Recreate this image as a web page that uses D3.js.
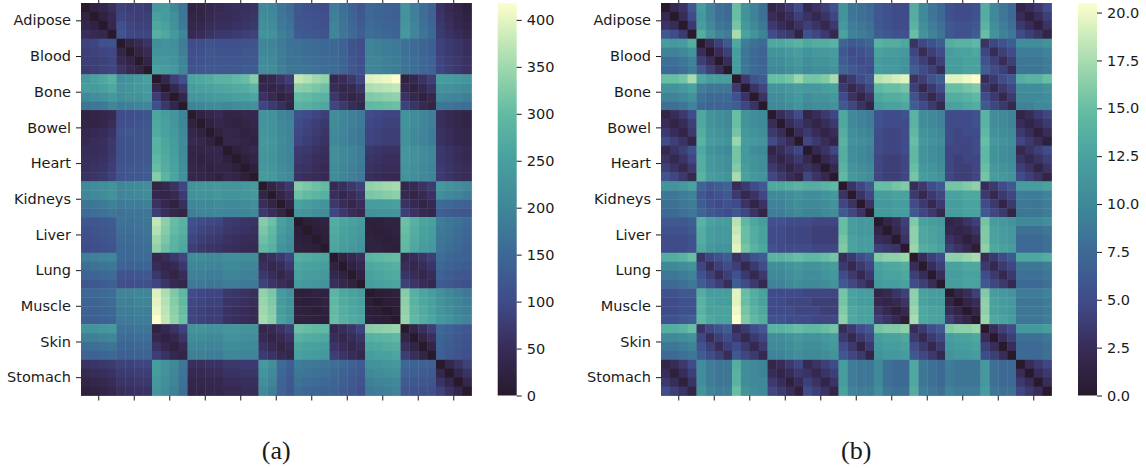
<!DOCTYPE html>
<html>
<head>
<meta charset="utf-8">
<script src="https://cdn.jsdelivr.net/npm/d3@7"></script>
<style>
  body { margin: 0; background: #fff; }
  svg text { font-family: "DejaVu Sans", sans-serif; font-size: 14.5px; fill: #1a1a1a; }
  svg text.caption { font-family: "Liberation Serif", serif; font-size: 26px; }
</style>
</head>
<body>
<svg id="chart" width="1146" height="468"></svg>
<script>
"use strict";

var tissues = ["Adipose", "Blood", "Bone", "Bowel", "Heart", "Kidneys",
               "Liver", "Lung", "Muscle", "Skin", "Stomach"];

var ticksA = [0, 50, 100, 150, 200, 250, 300, 350, 400];
var ticksB = [0, 2.5, 5, 7.5, 10, 12.5, 15, 17.5, 20];
var maxA = 418;
var maxB = 20.5;

// distance matrices, 11 tissues x 4 samples; stored as lower triangles (symmetric)
var distA = [
  [0],
  [25,0],
  [35,25,0],
  [55,45,40,0],
  [85,90,110,115, 0],
  [80,85,90,95, 30,0],
  [80,80,85,90, 45,30,0],
  [75,80,85,90, 60,45,30,0],
  [235,250,265,280, 215,225,235,250, 0],
  [245,240,250,265, 220,225,235,245, 35,0],
  [205,215,220,235, 215,220,225,235, 80,40,0],
  [170,175,180,200, 185,190,195,200, 110,70,35,0],
  [25,30,35,45, 100,105,110,115, 260,245,230,195, 0],
  [30,30,35,50, 105,110,115,120, 265,250,230,200, 25,0],
  [40,45,50,60, 115,120,120,125, 270,255,235,205, 35,25,0],
  [45,50,55,70, 110,115,120,125, 285,260,240,210, 45,35,25,0],
  [50,50,55,70, 110,115,120,125, 285,265,245,205, 30,30,35,35, 0],
  [55,55,60,75, 110,115,120,125, 295,270,250,210, 30,25,30,35, 20,0],
  [55,60,65,80, 115,120,125,130, 305,275,255,215, 35,30,25,30, 30,20,0],
  [60,65,70,85, 115,120,125,130, 330,290,260,220, 40,35,30,25, 40,30,20,0],
  [205,210,215,225, 200,205,210,215, 30,40,60,90, 225,230,230,235, 230,230,235,240, 0],
  [200,205,210,220, 195,200,205,210, 40,30,45,75, 220,225,225,230, 225,225,230,235, 30,0],
  [170,175,180,190, 180,185,185,190, 60,40,25,55, 200,205,205,210, 205,205,210,215, 50,30,0],
  [155,160,165,175, 165,170,170,175, 80,55,35,30, 190,195,195,200, 195,195,200,205, 70,50,30,0],
  [120,120,125,130, 165,165,170,175, 375,335,305,285, 110,100,95,90, 75,70,65,60, 330,310,250,230, 0],
  [110,115,120,125, 160,160,165,170, 365,330,300,280, 100,90,85,80, 70,65,60,55, 320,300,245,225, 15,0],
  [105,110,115,120, 155,155,160,165, 350,320,290,270, 90,80,75,70, 60,55,50,50, 310,290,235,215, 20,15,0],
  [100,105,110,115, 150,150,155,160, 340,310,285,265, 80,70,65,60, 55,50,45,45, 300,280,225,210, 25,20,15,0],
  [185,190,195,200, 150,150,155,155, 40,50,70,90, 210,210,205,205, 215,215,210,210, 45,55,70,90, 275,270,265,260, 0],
  [160,165,170,175, 140,140,145,145, 50,35,45,70, 200,200,195,195, 205,205,200,200, 55,40,50,70, 260,255,250,245, 25,0],
  [140,145,150,155, 115,115,120,120, 70,45,30,50, 190,190,185,185, 195,195,190,190, 70,50,35,50, 250,245,240,235, 40,25,0],
  [120,125,130,135, 105,105,110,110, 90,65,45,35, 180,180,175,175, 185,185,180,180, 85,65,50,40, 240,235,230,225, 55,40,25,0],
  [150,150,155,160, 195,195,200,200, 395,360,325,295, 100,95,90,90, 70,65,60,55, 340,320,240,220, 20,20,25,25, 290,265,255,245, 0],
  [145,145,150,155, 190,190,195,195, 400,365,330,300, 95,90,85,85, 65,60,55,50, 345,325,240,225, 20,15,20,25, 295,270,260,250, 10,0],
  [140,140,145,150, 185,185,190,190, 405,370,335,305, 90,85,80,80, 60,55,50,45, 350,330,245,225, 25,20,15,20, 300,275,265,255, 15,10,0],
  [135,135,140,145, 180,180,185,185, 418,375,340,310, 90,85,80,80, 60,55,50,45, 355,335,250,230, 25,25,20,15, 305,280,270,260, 20,15,10,0],
  [225,225,230,235, 165,165,170,170, 25,40,60,85, 225,225,220,220, 230,230,225,225, 35,45,60,80, 310,305,300,295, 40,50,65,85, 330,335,340,345, 0],
  [190,190,195,200, 155,155,160,160, 40,25,40,65, 210,210,205,205, 220,220,215,215, 45,30,45,60, 280,275,270,265, 50,40,50,65, 280,285,290,295, 30,0],
  [160,160,165,170, 145,145,150,150, 60,40,25,45, 200,200,195,195, 210,210,205,205, 60,45,30,45, 260,255,250,245, 65,50,40,50, 260,265,270,275, 55,30,0],
  [140,140,145,150, 135,135,140,140, 80,60,40,30, 190,190,185,185, 200,200,195,195, 75,60,45,35, 250,245,240,235, 80,65,50,40, 245,250,255,260, 80,55,30,0],
  [60,65,70,75, 85,85,90,90, 245,225,205,175, 55,55,60,60, 70,70,75,75, 235,215,155,135, 185,180,175,170, 160,150,140,130, 220,225,230,235, 150,145,140,135, 0],
  [45,50,55,60, 75,75,80,80, 240,220,200,170, 45,45,50,50, 60,60,65,65, 225,205,150,130, 175,170,165,160, 150,140,130,120, 205,210,215,220, 140,135,130,125, 35,0],
  [30,35,40,50, 65,65,70,70, 235,215,195,165, 35,35,40,40, 50,50,55,55, 215,195,145,125, 165,160,155,150, 145,135,125,115, 190,195,200,205, 130,125,120,115, 60,35,0],
  [20,25,30,40, 55,55,60,60, 230,210,190,160, 30,30,35,35, 45,45,50,50, 205,185,140,120, 155,150,145,140, 140,130,120,110, 180,185,190,195, 120,115,110,105, 85,60,35,0]
];

var distB = [
  [0],
  [2,0],
  [3,2.5,0],
  [6,5,3.5,0],
  [12,11.5,12,13.5, 0],
  [9.5,9.5,10,11, 2.5,0],
  [8,8,8.5,9.5, 4,2.5,0],
  [7.5,7.5,8,9, 6,4,2.5,0],
  [15,15,15.5,17.5, 13,12,12,12, 0],
  [11,11,11.5,12.5, 9,8.5,8.5,8.5, 3.5,0],
  [9.5,9.5,10,11, 8,7.5,7.5,7.5, 5.5,3,0],
  [8,8,8.5,9.5, 7.5,7,7,7, 6.5,4.5,3,0],
  [1.5,2.5,3.5,5, 13,11,10.5,10, 15,11,10.5,10, 0],
  [2.5,1.5,2.5,4, 13,11,10.5,10, 15,11,10.5,10, 2.5,0],
  [3.5,2.5,1.5,3.5, 13.5,11.5,11,10.5, 15.5,11.5,11,10.5, 3.5,2.5,0],
  [5,4,3,1.5, 14,12,11.5,11, 17,12,11.5,11, 5,3.5,2.5,0],
  [2,3,4,5.5, 13,11,10.5,10, 15.5,11.5,10.5,10, 1.5,2.5,3.5,4.5, 0],
  [3,2,3,4.5, 13.5,11.5,11,10.5, 15.5,11.5,11,10.5, 2.5,1.5,2.5,3.5, 2,0],
  [4,3,2,3.5, 13.5,11.5,11,10.5, 16,12,11,10.5, 3.5,2.5,1.5,2.5, 3,2,0],
  [5.5,4.5,3.5,2, 14,12,11.5,11, 17.5,12.5,11.5,11, 4.5,3.5,2.5,1.5, 4.5,3,2,0],
  [11,11,11.5,12.5, 7,6,6.5,7, 2.5,3.5,5,6, 13,13,13.5,14, 13.5,13.5,14,14.5, 0],
  [8.5,8.5,9,9.5, 6,5,5.5,6, 3.5,2,3,4.5, 10,10,10.5,11, 10.5,10.5,11,11.5, 3,0],
  [8,8,8.5,9, 6.5,5.5,5,5.5, 5,3,1.5,3, 9.5,9.5,10,10.5, 10,10,10.5,11, 4.5,3,0],
  [7.5,7.5,8,8.5, 7,6,5.5,5, 6,4.5,3,1.5, 9,9,9.5,10, 9.5,9.5,10,10.5, 6,4.5,3,0],
  [6,6,6,6.5, 14,12.5,12,12, 18,14.5,13,12, 5.5,5.5,5,5, 5,4.5,4.5,4.5, 15,12,11.5,11.5, 0],
  [5.5,5.5,5.5,6, 13.5,12,11.5,11.5, 18.5,15,13.5,12.5, 5,5,4.5,4.5, 4.5,4,4,4, 15,12,11.5,11.5, 1.5,0],
  [5,5,5,5.5, 13.5,12,11.5,11.5, 19,15,13.5,12.5, 5,5,4.5,4.5, 4.5,4,4,4, 15.5,12.5,12,12, 2.5,2,0],
  [5,5,5,5.5, 13,11.5,11,11, 19.5,15.5,14,13, 5.5,5,5,5, 5,4.5,4.5,4.5, 16,12.5,12,12, 4,3.5,3,0],
  [13.5,13.5,14,15, 3,4.5,5.5,6.5, 3,4,5.5,6.5, 14,14,14.5,15, 14.5,14.5,15,15.5, 2.5,3.5,5,6, 16,16.5,16.5,17, 0],
  [10,10,10.5,11, 4.5,2.5,4,5, 4,2,3.5,5, 10.5,10.5,11,11.5, 11,11,11.5,12, 3.5,2,3.5,4.5, 12.5,13,13,13.5, 2.5,0],
  [8.5,8.5,9,9.5, 5.5,4,2.5,4, 5.5,3.5,2,3.5, 10,10,10.5,11, 10.5,10.5,11,11.5, 5,3.5,2,3.5, 12,12.5,12.5,13, 4,2.5,0],
  [7.5,7.5,8,8.5, 6.5,5,4,2.5, 6.5,5,3.5,2, 9.5,9.5,10,10.5, 10,10,10.5,11, 6,4.5,3.5,2, 11.5,12,12,12.5, 5,4,2.5,0],
  [5.5,5.5,6,6, 13.5,12,12,12, 19.5,15,13.5,12.5, 5,5,5,5, 4.5,4.5,4.5,4.5, 15.5,12.5,12,12, 1.5,2,3,4, 16.5,12.5,12,12, 0],
  [5,5,5.5,5.5, 14,12.5,12,12, 19.5,15,13.5,12.5, 5,5,4.5,4.5, 4.5,4,4,4, 15.5,12.5,12,12, 2,1.5,2,3, 16.5,12.5,12,12, 1.5,0],
  [5,5,5.5,5.5, 14,12.5,12.5,12.5, 20,15.5,14,13, 5,5,5,4.5, 4.5,4.5,4,4, 16,13,12.5,12.5, 3,2,1,2, 17,13,12.5,12.5, 2.5,1.5,0],
  [5.5,5.5,6,6.5, 14.5,13,12.5,12.5, 20.5,16,14.5,13.5, 5.5,5.5,5,5, 5,4.5,4.5,4.5, 16.5,13,12.5,12.5, 4,3,2,0.5, 17.5,13,12.5,12.5, 4,2.5,1.5,0],
  [13.5,13.5,14,15, 3,4.5,5.5,6.5, 2.5,3.5,5,6, 14,14,14.5,15, 14.5,14.5,15,15.5, 2.5,3.5,5,6, 15.5,16,16,16.5, 2.5,3.5,5,6, 16,16.5,16.5,17, 0],
  [10,10,10.5,11, 4.5,2.5,4,5, 3.5,2,3.5,4.5, 10.5,10.5,11,11.5, 11,11,11.5,12, 3.5,2,3.5,4.5, 12,12.5,12.5,13, 3.5,2,3.5,4.5, 12,12.5,12.5,13, 2.5,0],
  [8.5,8.5,9,9.5, 5.5,4,2.5,4, 5,3.5,2,3.5, 10,10,10.5,11, 10.5,10.5,11,11.5, 5,3.5,1.5,3.5, 11.5,12,12,12.5, 5,3.5,2,3.5, 11.5,12,12,12.5, 4,2.5,0],
  [7.5,7.5,8,8.5, 6.5,5,4,2.5, 6,4.5,3.5,2, 9.5,9.5,10,10.5, 10,10,10.5,11, 6,4.5,3.5,1.5, 11,11.5,11.5,12, 6,4.5,3.5,2, 11,11.5,11.5,12, 5,4,2.5,0],
  [1.5,2.5,3.5,5, 10.5,9,8.5,8.5, 13.5,10.5,10,9.5, 1.5,2.5,3.5,4.5, 2,3,4,5, 12,9,8.5,8.5, 10,8,7.5,7.5, 13,8.5,8,7.5, 9,8.5,8.5,8.5, 11.5,8,7.5,7.5, 0],
  [2.5,1,2.5,4, 10.5,9,8.5,8.5, 14,10.5,10,9.5, 2.5,1.5,2.5,3.5, 3,2,3,4, 12,9,8.5,8.5, 10,8,7.5,7.5, 13,8.5,8,7.5, 9,8.5,8.5,8.5, 11.5,8,7.5,7.5, 2.5,0],
  [3.5,2.5,1,3, 10.5,9,8.5,8.5, 14,10.5,10,10, 3.5,2.5,1,2.5, 4,3,1.5,3, 12,9,8.5,8.5, 10,8,7.5,7.5, 13,8.5,8,7.5, 9,8.5,8.5,8.5, 11.5,8,7.5,7.5, 3.5,2.5,0],
  [5,4,3,1.5, 11,9.5,9,9, 15,11,10.5,10, 4.5,3.5,2.5,1, 5,4,3,1.5, 12.5,9.5,9,9, 10.5,8.5,8,8, 13.5,9,8.5,8, 9.5,9,9,9, 12,8.5,8,8, 4.5,3.5,2.5,0]
];

// colour ramp (dark purple -> blue -> teal -> pale yellow)
var rampT = [0, 0.12, 0.24, 0.36, 0.48, 0.60, 0.72, 0.84, 0.96, 1];
var rampC = ["#281a2c", "#382c58", "#404b8a", "#3d6895", "#3f8798",
             "#48a09f", "#62bba3", "#a0d9ad", "#e6f5c3", "#fdfecc"];

var svg = d3.select("#chart");

function fullMatrix(lower) {
  var n = lower.length;
  lower.forEach(function(r, i) {
    if (r.length !== i + 1) console.log("row " + i + " has " + r.length);
  });
  return d3.range(n).map(function(i) {
    return d3.range(n).map(function(j) {
      return i >= j ? lower[i][j] : lower[j][i];
    });
  });
}

function drawPanel(p) {
  var m = fullMatrix(p.data);
  var n = m.length;
  var g = svg.append("g");

  var x = d3.scaleBand().domain(d3.range(n)).range([p.left, p.right]);
  var y = d3.scaleBand().domain(d3.range(n)).range([p.top, p.bottom]);
  var color = d3.scaleLinear()
    .domain(rampT.map(function(t) { return t * p.vmax; }))
    .range(rampC)
    .clamp(true);

  var cells = [];
  m.forEach(function(row, i) {
    row.forEach(function(v, j) { cells.push({i: i, j: j, v: v}); });
  });

  g.selectAll("rect.cell")
    .data(cells)
    .enter().append("rect")
    .attr("class", "cell")
    .attr("x", function(d) { return x(d.j); })
    .attr("y", function(d) { return y(d.i); })
    .attr("width", x.bandwidth() + 0.4)
    .attr("height", y.bandwidth() + 0.4)
    .attr("fill", function(d) { return color(d.v); });

  var ty = d3.scaleBand().domain(tissues).range([p.top, p.bottom]);
  var tx = d3.scaleBand().domain(tissues).range([p.left, p.right]);

  var yAxis = g.append("g")
    .attr("transform", "translate(" + p.left + ",0)")
    .call(d3.axisLeft(ty).tickSize(5).tickPadding(5));
  var xAxis = g.append("g")
    .attr("transform", "translate(0," + p.bottom + ")")
    .call(d3.axisBottom(tx).tickSize(5).tickFormat(""));
  var xTop = g.append("g")
    .attr("transform", "translate(0," + p.top + ")")
    .call(d3.axisTop(tx).tickSize(5).tickFormat(""));

  [yAxis, xAxis, xTop].forEach(function(a) {
    a.select(".domain").remove();
    a.selectAll("line").attr("stroke", "#1a1a1a");
    a.attr("font-family", null).attr("font-size", null);
  });

  // colour bar
  var cb = d3.scaleLinear().domain([0, p.vmax]).range([p.bottom, p.top]);
  var gradId = "grad" + p.id;
  var grad = svg.append("defs").append("linearGradient")
    .attr("id", gradId)
    .attr("x1", 0).attr("y1", 1).attr("x2", 0).attr("y2", 0);
  grad.selectAll("stop")
    .data(rampT)
    .enter().append("stop")
    .attr("offset", function(t) { return t; })
    .attr("stop-color", function(t, i) { return rampC[i]; });

  g.append("rect")
    .attr("x", p.cbLeft)
    .attr("y", p.top)
    .attr("width", p.cbWidth)
    .attr("height", p.bottom - p.top)
    .attr("fill", "url(#" + gradId + ")");

  var cbAxis = g.append("g")
    .attr("transform", "translate(" + (p.cbLeft + p.cbWidth) + ",0)")
    .call(d3.axisRight(cb).tickValues(p.ticks).tickSize(5).tickPadding(5)
      .tickFormat(p.fmt));
  cbAxis.select(".domain").remove();
  cbAxis.selectAll("line").attr("stroke", "#1a1a1a");
  cbAxis.attr("font-family", null).attr("font-size", null);

  g.append("text")
    .attr("class", "caption")
    .attr("x", (p.left + p.right) / 2)
    .attr("y", 459)
    .attr("text-anchor", "middle")
    .text(p.caption);
}

drawPanel({
  id: "a", data: distA, vmax: maxA, ticks: ticksA, fmt: d3.format("d"),
  left: 81, right: 471.5, top: 3, bottom: 395.5,
  cbLeft: 497.7, cbWidth: 19, caption: "(a)"
});

drawPanel({
  id: "b", data: distB, vmax: maxB, ticks: ticksB, fmt: d3.format(".1f"),
  left: 661, right: 1051.5, top: 3, bottom: 395.5,
  cbLeft: 1078, cbWidth: 19, caption: "(b)"
});
</script>
</body>
</html>
